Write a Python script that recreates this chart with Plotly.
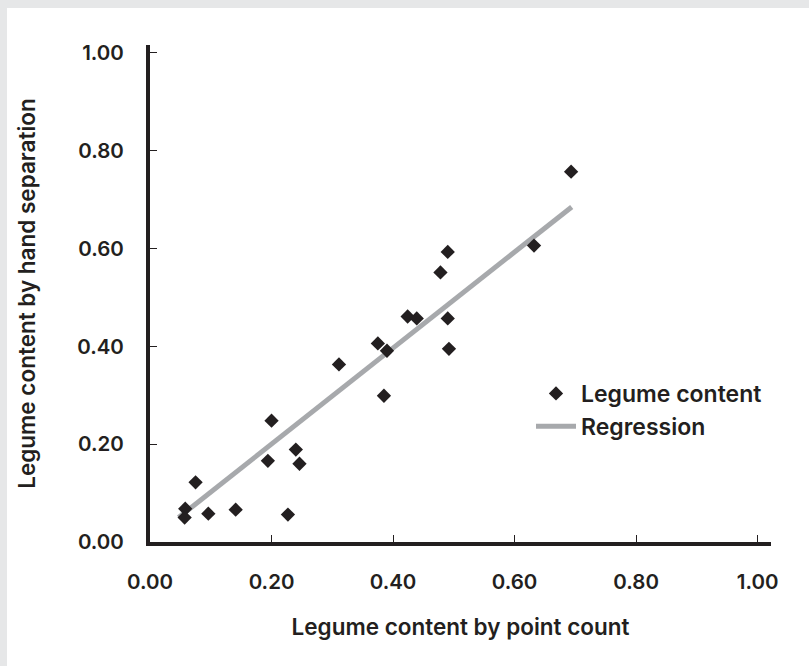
import plotly.graph_objects as go

# Data
point_count = [0.693, 0.632, 0.490, 0.478, 0.424, 0.439, 0.490, 0.492, 0.375, 0.390, 0.311,
               0.385, 0.200, 0.240, 0.194, 0.246, 0.075, 0.058, 0.057, 0.096, 0.141, 0.227]
hand_separation = [0.757, 0.606, 0.593, 0.551, 0.461, 0.457, 0.457, 0.395, 0.406, 0.391, 0.363,
                   0.299, 0.248, 0.189, 0.166, 0.160, 0.122, 0.068, 0.050, 0.058, 0.066, 0.056]
regression_x = [0.047, 0.694]
regression_y = [0.050, 0.685]
tick_vals = [0.0, 0.2, 0.4, 0.6, 0.8, 1.0]
tick_text = ["0.00", "0.20", "0.40", "0.60", "0.80", "1.00"]

DARK = "#231f20"
GREY_LINE = "#a7a9ac"
FONT = "Inter, Liberation Sans, Arial, sans-serif"

fig = go.Figure()
fig.add_trace(go.Scatter(
    x=regression_x, y=regression_y, mode="lines", name="Regression",
    line=dict(color=GREY_LINE, width=5), legendrank=2,
))
fig.add_trace(go.Scatter(
    x=point_count, y=hand_separation, mode="markers", name="Legume content",
    marker=dict(symbol="diamond", size=11, color=DARK, line=dict(width=0)), legendrank=1,
))

L, R, T, B, W, H = 150, 38, 45, 124, 809, 666
pw, ph = W - L - R, H - T - B

def px_x(p):
    return (p - L) / pw

def px_y(p):
    return (H - B - p) / ph

fig.add_shape(type="rect", xref="paper", yref="paper", layer="below",
              x0=px_x(-5), x1=px_x(W + 5), y0=px_y(-5), y1=px_y(H + 5),
              fillcolor="#e6e7e8", line=dict(width=0))
fig.add_shape(type="rect", xref="paper", yref="paper", layer="below",
              x0=px_x(7), x1=px_x(W + 5), y0=px_y(8), y1=px_y(H + 5),
              fillcolor="white", line=dict(width=0))

tick_font = dict(family=FONT, size=20.5, color=DARK, weight=600)
title_font = dict(family=FONT, size=22.5, color=DARK, weight=600)

axis_common = dict(
    tickvals=tick_vals, ticktext=tick_text, showgrid=False, zeroline=False,
    showline=True, linecolor=DARK, linewidth=4, ticks="inside", ticklen=7,
    tickwidth=1.2, tickcolor=DARK, tickfont=tick_font,
)

fig.update_layout(
    width=W, height=H,
    margin=dict(l=L, r=R, t=T, b=B),
    paper_bgcolor="white", plot_bgcolor="rgba(0,0,0,0)",
    font=dict(family=FONT, color=DARK),
    xaxis=dict(range=[0, 1.022], ticklabelstandoff=18,
               title=dict(text="Legume content by point count",
                          font=title_font, standoff=28),
               **axis_common),
    yaxis=dict(range=[0, 1.016], ticklabelstandoff=18,
               title=dict(text="Legume content by hand separation",
                          font=title_font, standoff=36),
               **axis_common),
    showlegend=True,
    legend=dict(x=px_x(531), y=px_y(372), xanchor="left", yanchor="top",
                bgcolor="rgba(0,0,0,0)", font=dict(family=FONT, size=23, color=DARK, weight=600),
                tracegroupgap=0, itemwidth=40),
)

fig.write_html("out.html")
